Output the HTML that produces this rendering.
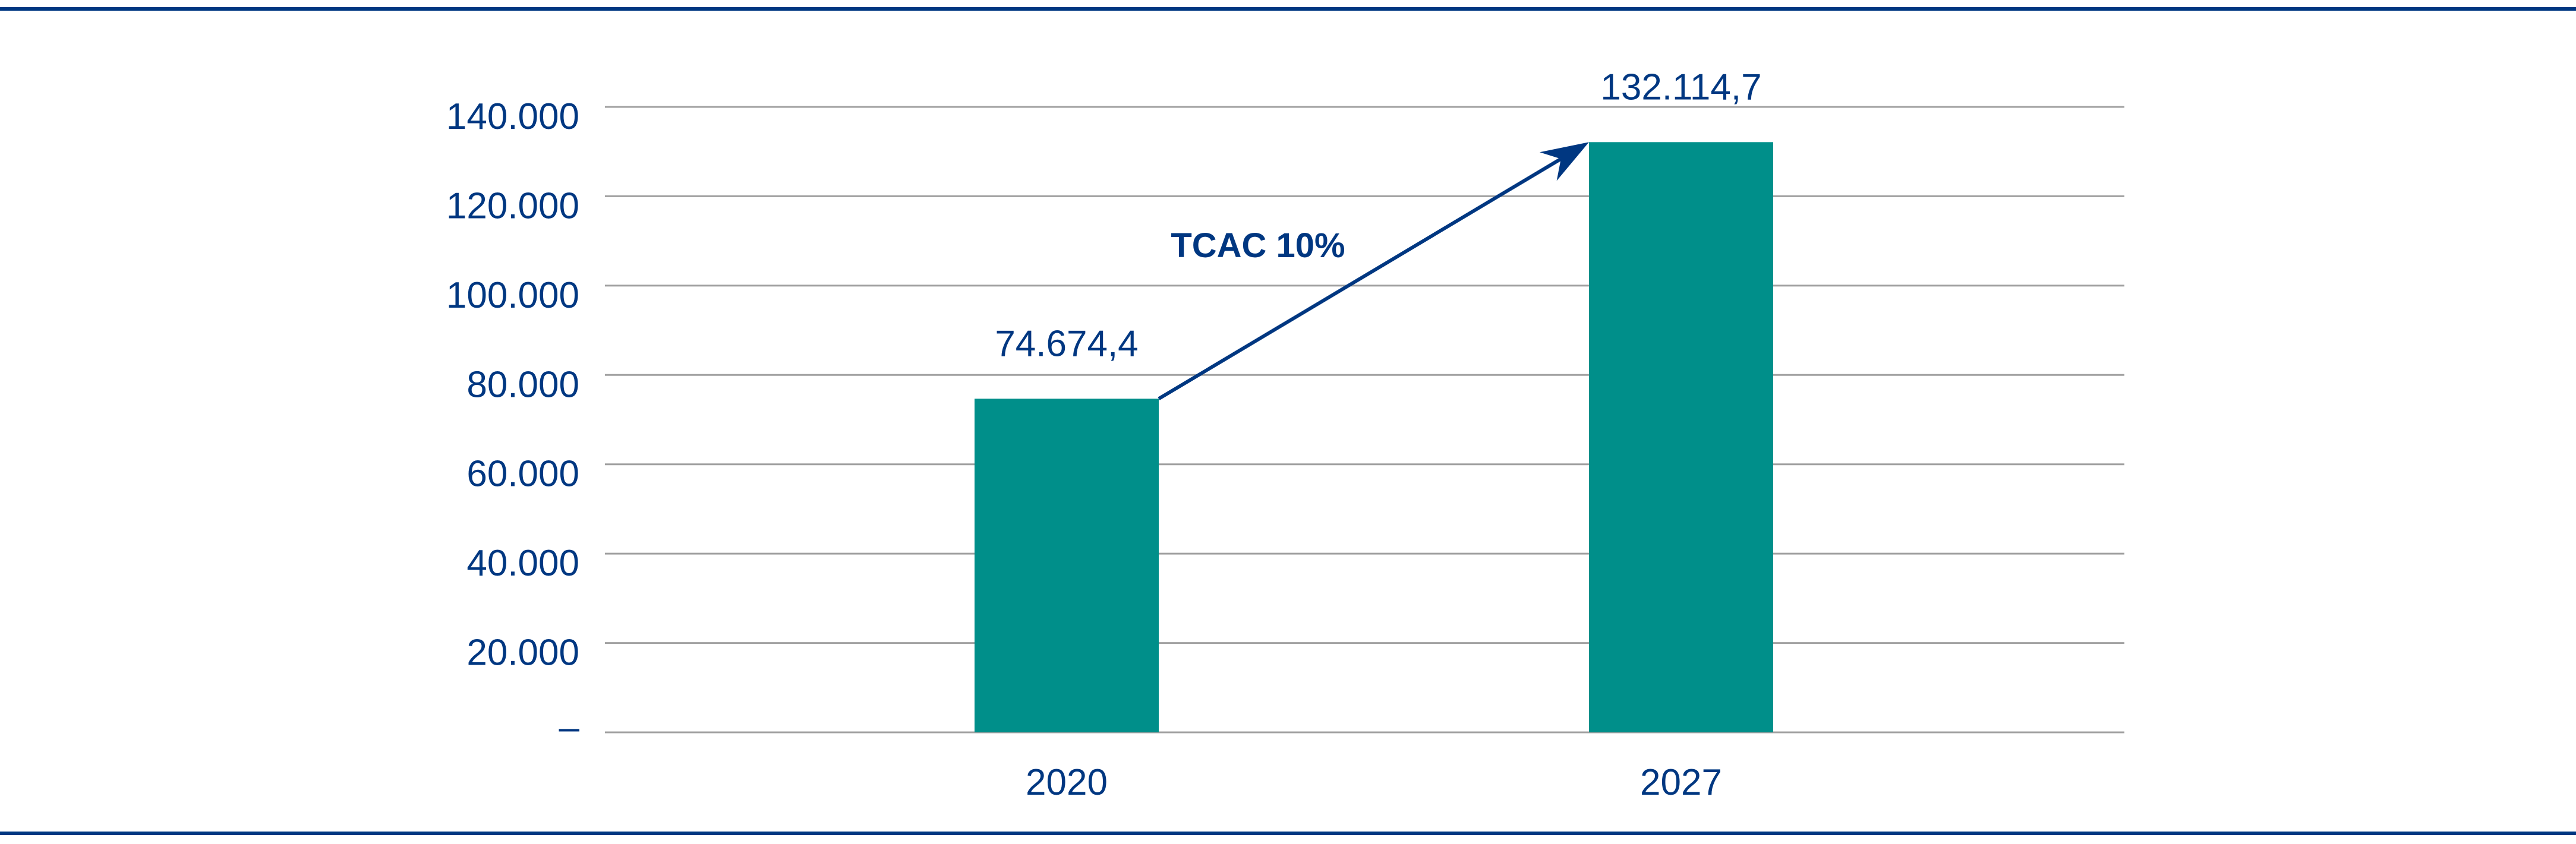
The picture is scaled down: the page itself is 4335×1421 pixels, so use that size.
<!DOCTYPE html>
<html><head><meta charset="utf-8"><style>
html,body{margin:0;padding:0;background:#fff;}
svg{display:block;font-family:"Liberation Sans",sans-serif;}
</style></head><body>
<svg id="chart" width="4335" height="1421" viewBox="0 0 4335 1421" xmlns="http://www.w3.org/2000/svg">
<rect x="0" y="12" width="4335" height="6" fill="#003781"/>
<rect x="0" y="1400" width="4335" height="6" fill="#003781"/>
<g id="grid"></g>
<g id="bars"></g>
<g id="labels"></g>
</svg>
<script>
const categories = ["2020", "2027"];
const values = [74674.4, 132114.7];
const valueLabels = ["74.674,4", "132.114,7"];
const yTicks = [0, 20000, 40000, 60000, 80000, 100000, 120000, 140000];
const yTickLabels = ["–", "20.000", "40.000", "60.000", "80.000", "100.000", "120.000", "140.000"];
const cagrLabel = "TCAC 10%";

const NS = "http://www.w3.org/2000/svg";
const plotL = 1018, plotR = 3575, y0 = 1233, yTop = 180, yMax = 140000;
const yScale = v => y0 - (v / yMax) * (y0 - yTop);
const firstCenter = 1795, step = 1034;
const barW = 310;
const xCenter = i => firstCenter + step * i;
const blue = "#003781";

function mk(tag, attrs, parent) {
  const el = document.createElementNS(NS, tag);
  for (const k in attrs) el.setAttribute(k, attrs[k]);
  parent.appendChild(el);
  return el;
}
const grid = document.getElementById("grid");
const bars = document.getElementById("bars");
const labels = document.getElementById("labels");

yTicks.forEach((t, i) => {
  const y = yScale(t);
  const ln = mk("line", {x1: plotL, x2: plotR, y1: y, y2: y, stroke: "#a0a0a0", "stroke-width": 3}, grid);
  
  
  const tx = mk("text", {x: 975, y: t === 0 ? y + 12 : y + 37, "text-anchor": "end", "font-size": 62, fill: blue}, labels);
  
  
  tx.textContent = yTickLabels[i];
});

const tops = [];
categories.forEach((c, i) => {
  const cx = xCenter(i);
  const yt = yScale(values[i]);
  tops.push([cx, yt]);
  const r = mk("rect", {x: cx - barW / 2, y: yt, width: barW, height: y0 - yt, fill: "#008f8a"}, bars);
  
  
  const v = mk("text", {x: cx, y: yt - 72, "text-anchor": "middle", "font-size": 62, fill: blue}, labels);
  
  
  v.textContent = valueLabels[i];
  const xl = mk("text", {x: cx, y: 1338, "text-anchor": "middle", "font-size": 62, fill: blue}, labels);
  
  
  xl.textContent = c;
});

const sx = tops[0][0] + barW / 2, sy = tops[0][1];
const ex = tops[1][0] - barW / 2, ey = tops[1][1];
const ang = Math.atan2(ey - sy, ex - sx);
const L = 80, W = 28, notch = 55;
const ca = Math.cos(ang), sa = Math.sin(ang);
const bx = ex - L * ca, by = ey - L * sa;
const nx = ex - notch * ca, ny = ey - notch * sa;
const line = mk("line", {x1: sx, y1: sy, x2: nx, y2: ny, stroke: blue, "stroke-width": 6}, labels);


const head = mk("polygon", {points: `${ex},${ey} ${bx - W * sa},${by + W * ca} ${nx},${ny} ${bx + W * sa},${by - W * ca}`, fill: blue}, labels);


const cg = mk("text", {x: 2117, y: 433, "text-anchor": "middle", "font-size": 58, "font-weight": "bold", fill: blue}, labels);


cg.textContent = cagrLabel;
</script>
</body></html>
